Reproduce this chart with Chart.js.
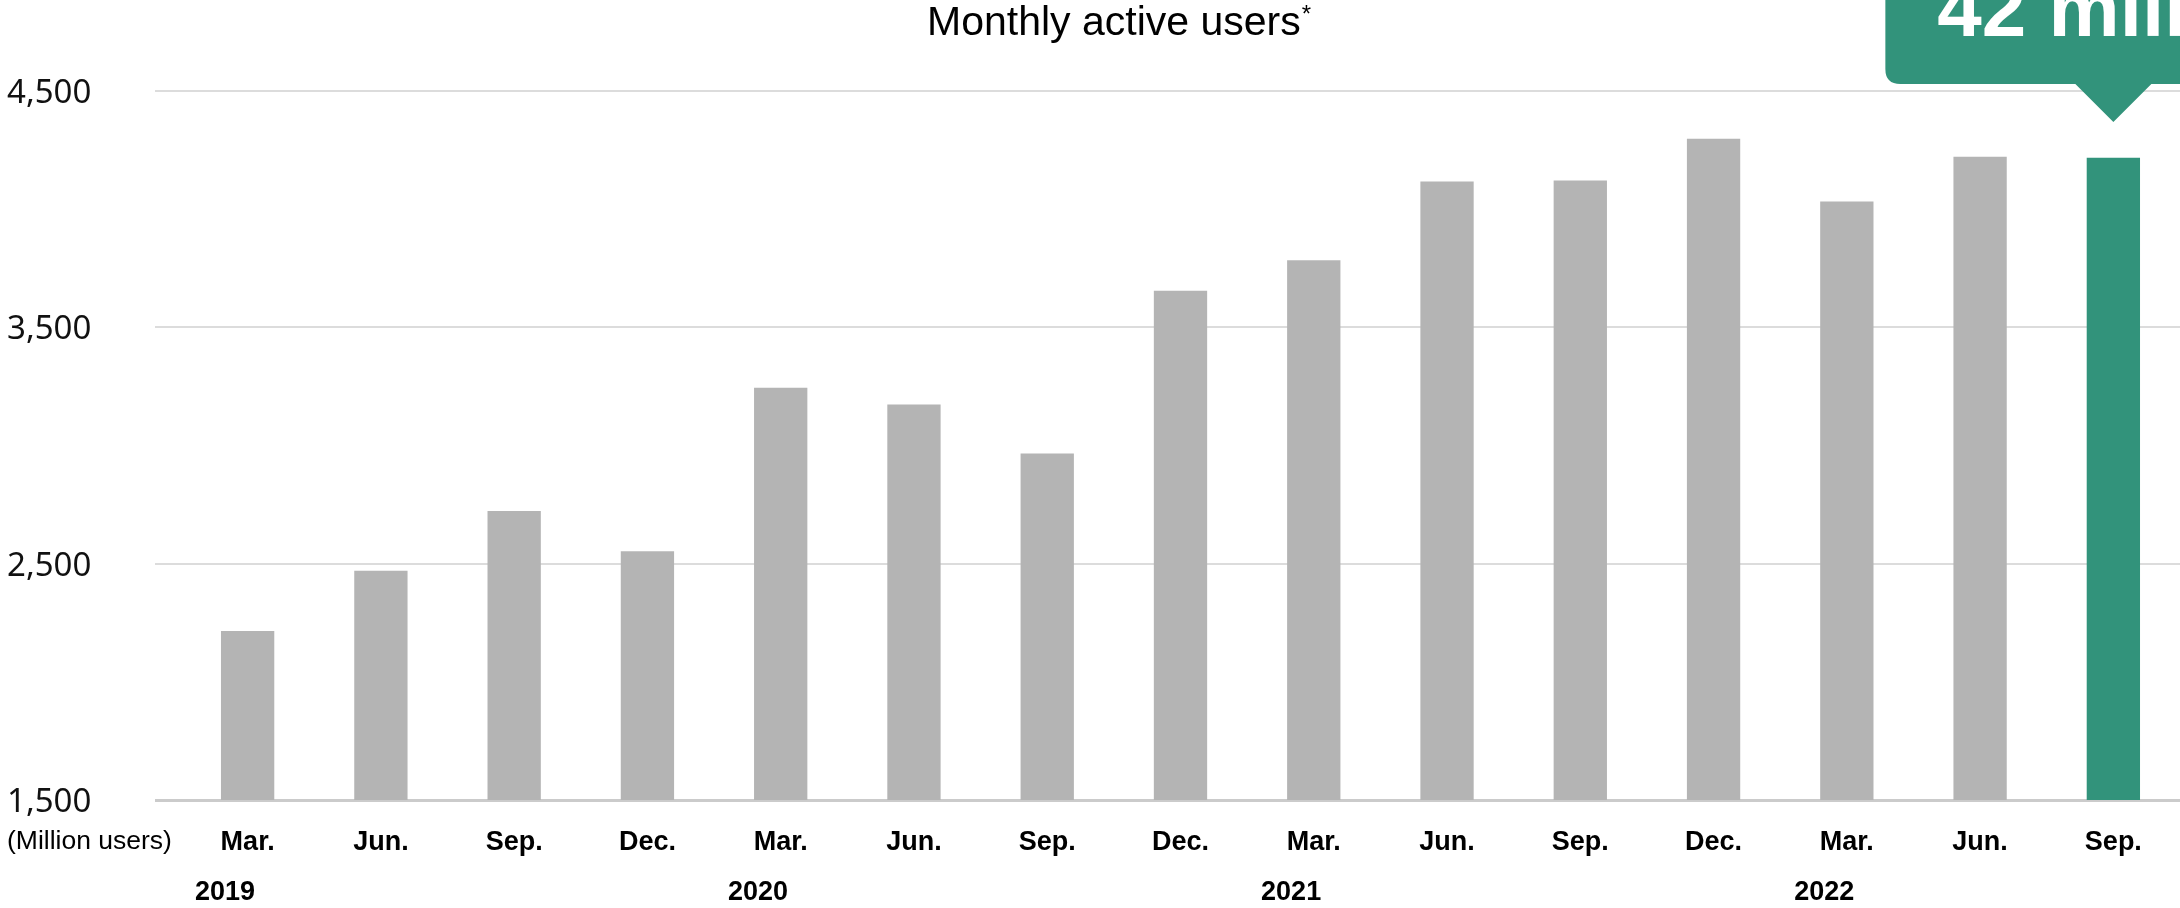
<!DOCTYPE html>
<html>
<head>
<meta charset="utf-8">
<script src="https://cdn.jsdelivr.net/npm/chart.js@4.4.1/dist/chart.umd.min.js"></script>
<style>
  html, body { margin: 0; padding: 0; background: #fff; }
  #wrap { width: 2180px; height: 908px; }
</style>
</head>
<body>
<div id="wrap"><canvas id="mauChart" width="2180" height="908"></canvas></div>
<script>
// datos
const months = ['Mar.', 'Jun.', 'Sep.', 'Dec.', 'Mar.', 'Jun.', 'Sep.', 'Dec.', 'Mar.', 'Jun.', 'Sep.', 'Dec.', 'Mar.', 'Jun.', 'Sep.'];
const users = [2215, 2470, 2723, 2553, 3244, 3173, 2966, 3655, 3784, 4117, 4121, 4298, 4032, 4222, 4218];
const years = ['2019', '2020', '2021', '2022'];
const yearStartIndex = [0, 4, 8, 12];
const yTicks = [1500, 2500, 3500, 4500];
const calloutText = '42 million';
const titleText = 'Monthly active users';
const unitText = '(Million users)';

const GREY = '#b4b4b4';
const GREEN = '#32937b';
const SANS = "'Liberation Sans', Arial, sans-serif";
const TICK_FONT = "'Noto Sans', sans-serif";

const highlight = users.length - 1;
const barColors = users.map((_, i) => i === highlight ? GREEN : GREY);

// título, etiquetas del eje y, años, unidad y el globo verde
const extrasPlugin = {
    id: 'extras',
    afterDraw(chart) {
        const ctx = chart.ctx;
        const x = chart.scales.x;
        const y = chart.scales.y;
        ctx.save();

        // título
        ctx.fillStyle = '#000';
        ctx.font = `41px ${SANS}`;
        ctx.textAlign = 'left';
        ctx.textBaseline = 'alphabetic';
        ctx.fillText(titleText, 927, 35);
        const tw = ctx.measureText(titleText).width;
        ctx.font = `24px ${SANS}`;
        ctx.fillText('*', 927 + tw + 1, 22);

        // etiquetas del eje y (centradas en la línea)
        ctx.fillStyle = '#111';
        ctx.font = `33px ${TICK_FONT}`;
        yTicks.forEach(v => {
            ctx.fillText(v.toLocaleString('en-US'), 7, y.getPixelForValue(v) + 12);
        });

        // unidad
        ctx.fillStyle = '#000';
        ctx.font = `26.5px ${SANS}`;
        ctx.textBaseline = 'middle';
        ctx.fillText(unitText, 7, 842);

        // años
        ctx.font = `bold 27px ${SANS}`;
        ctx.textAlign = 'center';
        const step = x.getPixelForValue(1) - x.getPixelForValue(0);
        years.forEach((yr, i) => {
            const px = x.getPixelForValue(yearStartIndex[i]) - step * 0.17;
            ctx.fillText(yr, px, 893);
        });

        // globo
        const bar = chart.getDatasetMeta(0).data[highlight];
        const bx = bar.x;
        const left = bx - 228;
        const bottom = 84;
        const r = 15;
        ctx.fillStyle = GREEN;
        ctx.beginPath();
        ctx.moveTo(left, -10);
        ctx.lineTo(chart.width + 10, -10);
        ctx.lineTo(chart.width + 10, bottom);
        ctx.lineTo(bx + 38, bottom);
        ctx.lineTo(bx, bottom + 38);
        ctx.lineTo(bx - 38, bottom);
        ctx.lineTo(left + r, bottom);
        ctx.quadraticCurveTo(left, bottom, left, bottom - r);
        ctx.closePath();
        ctx.fill();

        ctx.fillStyle = '#fff';
        ctx.font = `bold 80px ${SANS}`;
        ctx.textAlign = 'left';
        ctx.textBaseline = 'alphabetic';
        ctx.fillText(calloutText, bx - 176, 36);

        ctx.restore();
    }
};

new Chart(document.getElementById('mauChart').getContext('2d'), {
    type: 'bar',
    data: {
        labels: months,
        datasets: [{
            data: users,
            backgroundColor: barColors,
            borderWidth: 0,
            categoryPercentage: 1,
            barPercentage: 0.4
        }]
    },
    options: {
        responsive: false,
        animation: false,
        devicePixelRatio: 1,
        layout: { padding: { left: 7, top: 91, right: 0, bottom: 0 } },
        plugins: {
            legend: { display: false },
            tooltip: { enabled: false }
        },
        scales: {
            x: {
                grid: { display: false, drawTicks: false },
                border: { display: false },
                ticks: {
                    color: '#000',
                    font: { family: SANS, size: 27, weight: 'bold' },
                    padding: 26,
                    maxRotation: 0,
                    autoSkip: false
                },
                afterFit(scale) { scale.height = 108; }
            },
            y: {
                min: 1500,
                max: 4500,
                afterBuildTicks(scale) { scale.ticks = yTicks.map(v => ({ value: v })); },
                grid: {
                    color: ctx => ctx.tick && ctx.tick.value === 1500 ? '#cbcbcb' : '#dcdcdc',
                    lineWidth: ctx => ctx.tick && ctx.tick.value === 1500 ? 3 : 2,
                    tickLength: 26,
                    drawTicks: true
                },
                border: { display: false },
                ticks: { display: false },
                afterFit(scale) { scale.width = 174; }
            }
        }
    },
    plugins: [extrasPlugin]
});
</script>
</body>
</html>
